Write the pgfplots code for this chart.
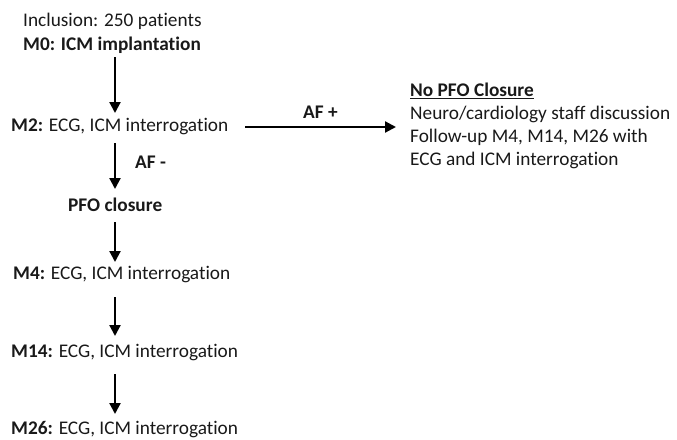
\documentclass[border=0pt]{standalone}
\usepackage{pgfplots}
\pgfplotsset{compat=1.18}
\usepackage{fontspec}
\setmainfont{Carlito}[Ligatures={NoCommon}]
\usetikzlibrary{arrows.meta}
\tikzset{lbl/.style={font=\fontsize{19.3}{23}\selectfont, inner sep=0pt, anchor=west, text=black!90}}
\begin{document}
\begin{tikzpicture}
\begin{axis}[
  width=677pt, height=439pt, scale only axis,
  xmin=0, xmax=677, ymin=0, ymax=439, y dir=reverse,
  axis lines=none, clip=false,
]
\addplot[black, line width=2.2pt, -{Triangle[length=11pt,width=11pt]}] coordinates {(115,57) (115,113)};
\addplot[black, line width=2.2pt, -{Triangle[length=11pt,width=11pt]}] coordinates {(115,143) (115,189)};
\addplot[black, line width=2.2pt, -{Triangle[length=11pt,width=11pt]}] coordinates {(115,222) (115,262)};
\addplot[black, line width=2.2pt, -{Triangle[length=11pt,width=11pt]}] coordinates {(115,297) (115,336)};
\addplot[black, line width=2.2pt, -{Triangle[length=11pt,width=11pt]}] coordinates {(115,374) (115,414)};
\addplot[black, line width=2.2pt, -{Triangle[length=11pt,width=11pt]}] coordinates {(245,127) (396,127)};
\node[lbl] at (axis cs:23,21) {Inclusion: 250 patients};
\node[lbl] at (axis cs:23,45) {\textbf{M0: ICM implantation}};
\node[lbl] at (axis cs:11,127) {\textbf{M2:} ECG, ICM interrogation};
\node[lbl] at (axis cs:303,112) {\textbf{AF +}};
\node[lbl] at (axis cs:410,91) {\textbf{\underline{No PFO Closure}}};
\node[lbl] at (axis cs:410,114) {Neuro/cardiology staff discussion};
\node[lbl] at (axis cs:410,137) {Follow-up M4, M14, M26 with};
\node[lbl] at (axis cs:410,160) {ECG and ICM interrogation};
\node[lbl] at (axis cs:135,162) {\textbf{AF -}};
\node[lbl] at (axis cs:68,205) {\textbf{PFO closure}};
\node[lbl] at (axis cs:13,275) {\textbf{M4:} ECG, ICM interrogation};
\node[lbl] at (axis cs:11,353) {\textbf{M14:} ECG, ICM interrogation};
\node[lbl] at (axis cs:11,430) {\textbf{M26:} ECG, ICM interrogation};
\coordinate (sw) at (axis cs:0,439);
\coordinate (ne) at (axis cs:677,0);
\end{axis}
\pgfresetboundingbox
\useasboundingbox (sw) rectangle (ne);
\end{tikzpicture}
\end{document}
